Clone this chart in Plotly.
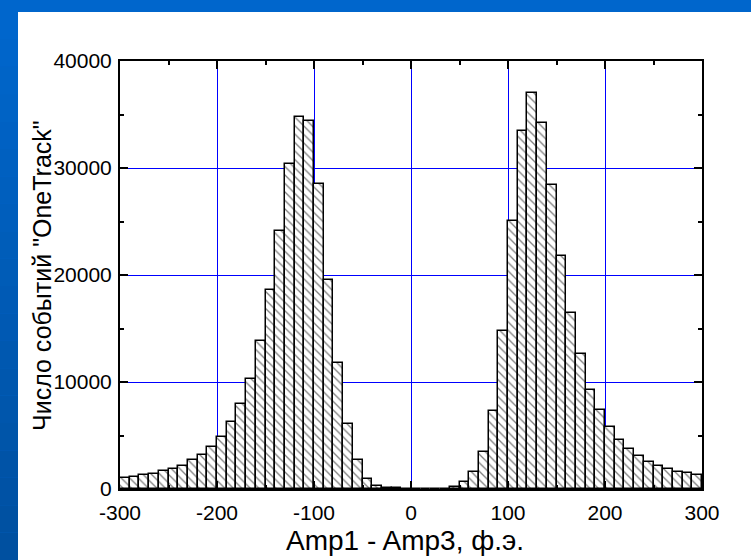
import plotly.graph_objects as go

# ---- data ----
bin_width = 10
bin_left = list(range(-300, 300, 10))
counts_neg = [1060, 1120, 1310, 1440, 1690, 1900, 2150, 2720, 3180, 3930,
              4870, 6250, 7990, 10240, 13830, 18580, 24100, 30350, 34790, 34350,
              28540, 19550, 11740, 6030, 2750, 900, 280, 120, 60, 30]
counts_pos = [30, 20, 20, 30, 190, 620, 1620, 3500, 7280, 14800,
              25010, 33500, 36970, 34160, 28450, 21800, 16460, 12620, 9270, 7340,
              5780, 4560, 3720, 3120, 2560, 2120, 1870, 1620, 1500, 1340]
counts = counts_neg + counts_pos
x_ticks = [-300, -200, -100, 0, 100, 200, 300]
y_ticks = [0, 10000, 20000, 30000, 40000]
x_title = "Amp1 - Amp3, ф.э."
y_title = 'Число событий "OneTrack"'

centers = [b + bin_width / 2 for b in bin_left]

W, H = 751, 560
ML, MR, MT, MB = 120, 49, 61, 71
PW, PH = W - ML - MR, H - MT - MB

fig = go.Figure()
fig.add_trace(go.Bar(
    x=centers, y=counts, width=bin_width,
    marker=dict(color="white",
                line=dict(color="black", width=1.5),
                pattern=dict(shape="\\", fgcolor="black", bgcolor="white",
                             size=6, solidity=0.22)),
    showlegend=False,
))

FONT = "Liberation Sans"

def px2paper_x(px):
    return (px - ML) / PW

def px2paper_y(py):
    return (H - MB - py) / PH

shapes = []
# white panel over blue frame
shapes.append(dict(type="rect", xref="paper", yref="paper", layer="below",
                   x0=px2paper_x(18), x1=px2paper_x(W), y0=px2paper_y(H), y1=px2paper_y(12),
                   fillcolor="white", line=dict(width=0)))
# left strip gradient
n = 20
top_c = (0, 102, 204)
bot_c = (0, 80, 160)
for i in range(n):
    t = i / (n - 1)
    c = tuple(int(round(top_c[k] + (bot_c[k] - top_c[k]) * t)) for k in range(3))
    y0 = 12 + (H - 12) * i / n
    y1 = 12 + (H - 12) * (i + 1) / n
    shapes.append(dict(type="rect", xref="paper", yref="paper", layer="below",
                       x0=px2paper_x(0), x1=px2paper_x(18),
                       y0=px2paper_y(y1), y1=px2paper_y(y0),
                       fillcolor="rgb(%d,%d,%d)" % c, line=dict(width=0)))

fig.update_layout(
    width=W, height=H,
    margin=dict(l=ML, r=MR, t=MT, b=MB, pad=0),
    paper_bgcolor="#0066CC",
    plot_bgcolor="white",
    bargap=0,
    font=dict(family=FONT, size=21, color="black"),
    shapes=shapes,
    annotations=[
        dict(text=x_title, xref="paper", yref="paper", x=px2paper_x(405), y=px2paper_y(540),
             showarrow=False, font=dict(size=28, family=FONT, color="black"),
             xanchor="center", yanchor="middle"),
        dict(text=y_title, xref="paper", yref="paper", x=px2paper_x(42), y=px2paper_y(276),
             showarrow=False, textangle=-90, font=dict(size=25, family=FONT, color="black"),
             xanchor="center", yanchor="middle"),
    ],
)
fig.update_xaxes(
    range=[-300, 300], tickvals=x_ticks, ticktext=[str(v) for v in x_ticks],
    showgrid=True, gridcolor="rgb(0,0,255)", gridwidth=1, zeroline=False,
    showline=True, linecolor="black", linewidth=2, mirror="ticks",
    ticks="inside", ticklen=8, tickwidth=1.5, tickcolor="black",
    minor=dict(ticks="inside", ticklen=4, tickwidth=1.5, tickcolor="black", dtick=50, tick0=0, showgrid=False),
    tickfont=dict(size=21, family=FONT, color="black"),
    ticklabelstandoff=4,
)
fig.update_yaxes(
    range=[0, 40000], tickvals=y_ticks, ticktext=[str(v) for v in y_ticks],
    showgrid=True, gridcolor="rgb(0,0,255)", gridwidth=1, zeroline=False,
    showline=True, linecolor="black", linewidth=2, mirror="ticks",
    ticks="inside", ticklen=8, tickwidth=1.5, tickcolor="black",
    minor=dict(ticks="inside", ticklen=4, tickwidth=1.5, tickcolor="black", dtick=5000, tick0=0, showgrid=False),
    tickfont=dict(size=21, family=FONT, color="black"),
    ticklabelstandoff=2,
)

fig.write_html("out.html")
